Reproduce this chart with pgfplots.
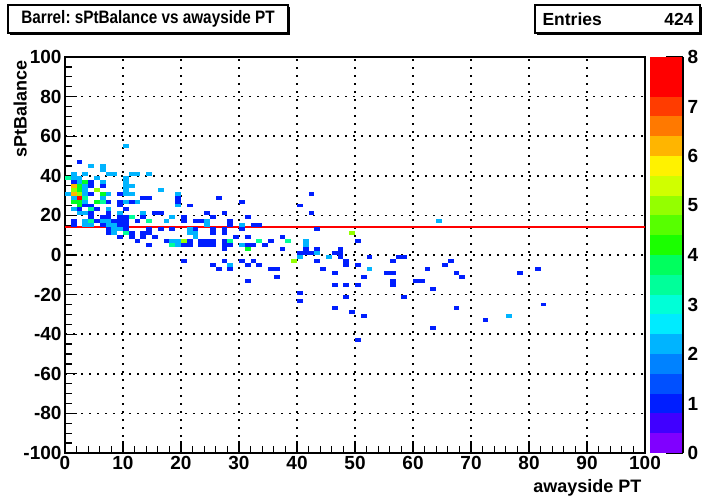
\documentclass[border=0pt]{standalone}
\usepackage{pgfplots}
\usepackage{pgfplotstable}
\usepackage{fontspec}
\setmainfont{Liberation Sans}
\pgfplotsset{compat=1.18}
\frenchspacing

\pgfplotsset{
  colormap={rootpal}{
    rgb255=(128,0,255) rgb255=(64,0,255) rgb255=(0,30,255) rgb255=(0,80,255)
    rgb255=(0,130,255) rgb255=(0,180,255) rgb255=(0,235,255) rgb255=(0,255,215)
    rgb255=(0,255,154) rgb255=(0,255,94) rgb255=(0,255,34) rgb255=(27,255,0)
    rgb255=(87,255,0) rgb255=(148,255,0) rgb255=(208,255,0) rgb255=(255,242,0)
    rgb255=(255,181,0) rgb255=(255,121,0) rgb255=(255,60,0) rgb255=(255,0,0)
    rgb255=(255,0,0)},
  colormap access=piecewise constant,
}

% one histogram bin: 1 unit in x (5.8pt) by 2 units in y (3.96pt)
\pgfdeclareplotmark{bin}{%
  \pgfpathrectangle{\pgfpoint{-2.9pt}{-1.98pt}}{\pgfpoint{5.8pt}{3.96pt}}%
  \pgfusepathqfill}
% one band of the colour scale: 33pt by 0.4 units (19.8pt)
\pgfdeclareplotmark{band}{%
  \pgfpathrectangle{\pgfpoint{-16.5pt}{-9.95pt}}{\pgfpoint{33pt}{19.9pt}}%
  \pgfusepathqfill}

% bin centre x, bin centre y, entries
\pgfplotstableread{
x y c
10.5 55 2
2.5 47 1
4.5 45 2
6.5 45 2
6.5 43 2
1.5 41 2
3.5 41 2
7.5 41 2
8.5 41 2
11.5 41 2
12.5 41 2
14.5 41 2
0.5 39 3
1.5 39 2
2.5 39 2
5.5 39 2
10.5 39 2
1.5 37 1
2.5 37 2
3.5 37 4
4.5 37 1
6.5 37 2
10.5 37 2
1.5 35 6
2.5 35 4
3.5 35 2
4.5 35 1
6.5 35 1
10.5 35 2
11.5 35 2
1.5 33 5
2.5 33 4
3.5 33 2
5.5 33 5
10.5 33 2
16.5 33 2
0.5 31 2
1.5 31 6
2.5 31 5
3.5 31 2
4.5 31 1
6.5 31 4
7.5 31 2
9.5 31 1
10.5 31 2
11.5 31 2
19.5 31 2
42.5 31 1
1.5 29 2
2.5 29 8
3.5 29 3
6.5 29 2
13.5 29 1
14.5 29 1
19.5 29 1
26.5 29 1
1.5 27 4
2.5 27 4
3.5 27 2
5.5 27 4
6.5 27 3
7.5 27 1
9.5 27 1
10.5 27 2
11.5 27 1
12.5 27 2
19.5 27 1
30.5 27 1
2.5 25 4
3.5 25 1
4.5 25 1
9.5 25 1
19.5 25 2
21.5 25 1
40.5 25 1
1.5 23 2
2.5 23 1
4.5 23 3
5.5 23 1
7.5 23 2
10.5 23 1
2.5 21 2
3.5 21 2
4.5 21 1
7.5 21 1
9.5 21 2
13.5 21 2
15.5 21 1
16.5 21 1
24.5 21 1
27.5 21 1
42.5 21 1
4.5 19 1
6.5 19 1
7.5 19 1
9.5 19 1
10.5 19 1
11.5 19 3
13.5 19 1
18.5 19 2
20.5 19 1
25.5 19 1
31.5 19 1
1.5 17 1
3.5 17 2
4.5 17 3
5.5 17 1
6.5 17 2
7.5 17 2
8.5 17 1
9.5 17 1
10.5 17 1
12.5 17 1
14.5 17 3
17.5 17 2
20.5 17 1
22.5 17 1
23.5 17 1
24.5 17 2
28.5 17 1
64.5 17 2
1.5 15 1
3.5 15 2
4.5 15 2
6.5 15 1
7.5 15 2
8.5 15 2
9.5 15 1
10.5 15 1
24.5 15 2
28.5 15 1
30.5 15 2
32.5 15 1
33.5 15 1
7.5 13 1
8.5 13 2
9.5 13 2
10.5 13 1
14.5 13 1
16.5 13 1
18.5 13 1
21.5 13 2
22.5 13 1
25.5 13 1
27.5 13 1
30.5 13 1
43.5 13 1
7.5 11 1
8.5 11 2
10.5 11 3
11.5 11 1
13.5 11 1
14.5 11 1
21.5 11 2
22.5 11 2
25.5 11 1
27.5 11 1
49.5 11 5
9.5 9 1
11.5 9 1
13.5 9 1
15.5 9 1
22.5 9 2
29.5 9 1
31.5 9 1
37.5 9 1
12.5 7 1
17.5 7 1
18.5 7 2
19.5 7 2
20.5 7 5
21.5 7 1
23.5 7 1
24.5 7 1
25.5 7 1
27.5 7 1
28.5 7 3
33.5 7 3
35.5 7 1
38.5 7 3
41.5 7 2
50.5 7 1
14.5 5 1
18.5 5 3
19.5 5 2
20.5 5 1
21.5 5 1
23.5 5 1
24.5 5 1
25.5 5 1
27.5 5 1
28.5 5 1
30.5 5 2
31.5 5 1
32.5 5 1
34.5 5 1
41.5 5 2
27.5 3 1
31.5 3 4
37.5 3 1
41.5 3 1
43.5 3 1
47.5 3 1
40.5 1 1
41.5 1 1
42.5 1 1
43.5 1 2
46.5 1 1
47.5 1 1
40.5 -1 2
45.5 -1 2
47.5 -1 1
52.5 -1 1
57.5 -1 1
58.5 -1 1
20.5 -3 1
27.5 -3 1
30.5 -3 1
32.5 -3 1
39.5 -3 5
43.5 -3 1
48.5 -3 1
56.5 -3 1
66.5 -3 1
25.5 -5 1
28.5 -5 2
31.5 -5 1
33.5 -5 1
48.5 -5 1
50.5 -5 1
65.5 -5 1
26.5 -7 1
28.5 -7 1
35.5 -7 1
36.5 -7 1
44.5 -7 1
52.5 -7 2
62.5 -7 1
81.5 -7 1
46.5 -9 1
55.5 -9 1
56.5 -9 1
67.5 -9 1
78.5 -9 1
36.5 -11 1
51.5 -11 1
68.5 -11 1
31.5 -13 1
56.5 -13 1
60.5 -13 1
61.5 -13 1
46.5 -15 1
48.5 -15 1
50.5 -15 1
56.5 -15 1
63.5 -17 1
40.5 -19 1
48.5 -21 1
58.5 -21 1
40.5 -23 1
82.5 -25 1
46.5 -27 1
67.5 -27 1
49.5 -29 1
51.5 -31 1
76.5 -31 2
72.5 -33 1
63.5 -37 1
50.5 -43 1
}\bins

% the 20 contour levels of the colour scale (band centres)
\pgfplotstableread{
x y
0.5 0.2
0.5 0.6
0.5 1.0
0.5 1.4
0.5 1.8
0.5 2.2
0.5 2.6
0.5 3.0
0.5 3.4
0.5 3.8
0.5 4.2
0.5 4.6
0.5 5.0
0.5 5.4
0.5 5.8
0.5 6.2
0.5 6.6
0.5 7.0
0.5 7.4
0.5 7.8
}\levels

\begin{document}
\begin{tikzpicture}[font=\bfseries]
\path[use as bounding box] (0,0) rectangle (711pt,500pt);
\begin{axis}[
    at={(65pt,47pt)}, anchor=south west,
    scale only axis, width=580pt, height=396pt,
    xmin=0, xmax=100, ymin=-100, ymax=100,
    xtick={0,10,...,100},
    ytick={-100,-80,...,100},
    minor x tick num=4,
    minor y tick num=3,
    xtick pos=left, ytick pos=left,
    tick align=inside,
    major tick length=12pt,
    minor tick length=7pt,
    tick style={black, line width=1.3pt},
    axis line style={line width=2pt},
    grid=major,
    major grid style={black, line width=1.6pt, dash pattern=on 1.6pt off 6.4pt},
    /pgf/number format/assume math mode=true,
    tick label style={font=\bfseries\fontsize{19}{19}\selectfont},
    xlabel={awayside PT},
    ylabel={sPtBalance},
    label style={font=\bfseries\fontsize{18}{18}\selectfont},
    xlabel style={at={(axis description cs:1,0)}, anchor=north east, yshift=-23pt},
    ylabel style={at={(axis description cs:0,1)}, anchor=north east, yshift=55pt},
    point meta min=0, point meta max=8,
]
\addplot[scatter, only marks, mark=bin,
    point meta={\thisrow{c}+0.1}] table[x=x, y=y] {\bins};
\addplot[red, line width=2pt] coordinates {(0,14.3) (100,14.3)};
\end{axis}
% colour scale
\begin{axis}[
    at={(650pt,47pt)}, anchor=south west,
    scale only axis, width=33pt, height=396pt,
    xmin=0, xmax=1, ymin=0, ymax=8,
    xtick=\empty,
    ytick={0,1,...,8},
    ytick pos=right, yticklabel pos=right,
    tick align=inside,
    major tick length=17pt,
    tick style={black, line width=1.6pt},
    axis line style={draw=none},
    axis on top,
    clip=false,
    /pgf/number format/assume math mode=true,
    tick label style={font=\bfseries\fontsize{19}{19}\selectfont},
    yticklabel style={xshift=1pt},
    point meta min=0, point meta max=8,
    extra description/.code={\draw[black, line width=2.2pt] (1,0) -- (1,1);},
]
\addplot[scatter, only marks, mark=band, point meta=\thisrow{y}] table[x=x, y=y] {\levels};
\end{axis}
% title box
\fill[black] (10pt,465pt) rectangle (290pt,493pt);
\draw[fill=white, line width=1.2pt] (8pt,467pt) rectangle (288pt,495pt);
\node[font=\bfseries\fontsize{18}{18}\selectfont, xscale=0.85] at (148pt,481pt) {Barrel: sPtBalance vs awayside PT};
% stats box
\fill[black] (537pt,465pt) rectangle (702pt,493pt);
\draw[fill=white, line width=1.2pt] (535pt,467pt) rectangle (700pt,495pt);
\node[anchor=west, font=\bfseries\fontsize{17.5}{17.5}\selectfont] at (539pt,481pt) {Entries};
\node[anchor=east, font=\bfseries\fontsize{17.5}{17.5}\selectfont] at (697pt,481pt) {424};
\end{tikzpicture}
\end{document}
